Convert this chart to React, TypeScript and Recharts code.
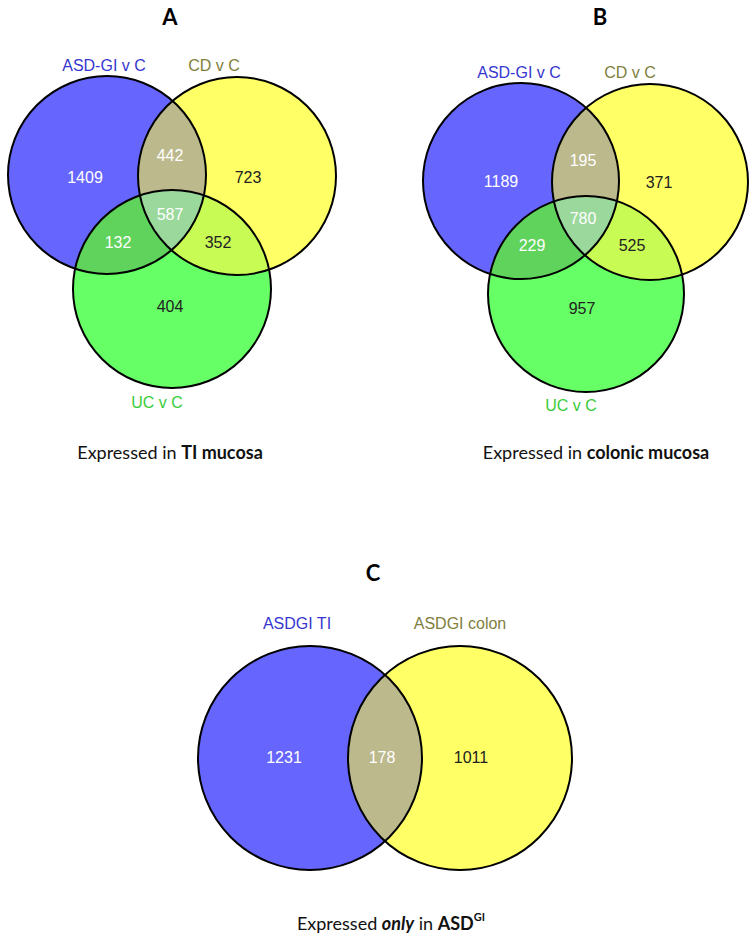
import React from 'react';
import { ScatterChart, Scatter, XAxis, YAxis, ZAxis } from 'recharts';

const W = 755;
const H = 939;

// ---- data ----
const panelTitles = ['A', 'B', 'C'];
const setNamesA = ['ASD-GI v C', 'CD v C', 'UC v C'];
const setNamesB = ['ASD-GI v C', 'CD v C', 'UC v C'];
const setNamesC = ['ASDGI TI', 'ASDGI colon'];
// region order: set1 only, 1&2, set2 only, 1&2&3, 1&3, 2&3, set3 only
const regions3 = ['1', '12', '2', '123', '13', '23', '3'];
const countsA = [1409, 442, 723, 587, 132, 352, 404];
const countsB = [1189, 195, 371, 780, 229, 525, 957];
const regions2 = ['1', '12', '2'];
const countsC = [1231, 178, 1011];
// caption pieces: [text, style]  (b = bold, bi = bold italic, sup = bold superscript)
const captionA = [['Expressed in ', ''], ['TI mucosa', 'b']];
const captionB = [['Expressed in ', ''], ['colonic mucosa', 'b']];
const captionC = [['Expressed ', ''], ['only', 'bi'], [' in ', ''], ['ASD', 'b'], ['GI', 'sup']];

// ---- layout (chart units, y grows downward) ----
const circlesA = [[107, 175], [237, 176], [172, 289]];
const circlesB = [[521, 181], [650, 182], [586, 294]];
const circlesC = [[310, 758], [460, 758]];
const radiusA = 99;
const radiusB = 98;
const radiusC = 112;
const titlePos = [[170, 16], [600, 16], [373, 572]];
const namePosA = [[104, 65], [214, 65], [157, 402]];
const namePosB = [[519, 72], [630, 72], [571, 405]];
const namePosC = [[297, 623], [460, 623]];
const numPosA = [[85, 177], [170, 155], [248, 177], [170, 214], [118, 242], [218, 242], [170, 306]];
const numPosB = [[501, 181], [583, 160], [659, 182], [583, 218], [532, 245], [632, 245], [582, 308]];
const numPosC = [[284, 757], [382, 757], [471, 757]];
const captionPos = [[170, 452], [596, 452], [391, 923]];

// ---- styles ----
const SET_FILL = ['#6666ff', '#ffff66', '#66ff66'];
const SET_TEXT = ['#3636cf', '#80803c', '#39cc39'];
const REGION_FILL: Record<string, string> = {
  '12': '#bcb98d',
  '13': '#5fd35c',
  '23': '#c9fb55',
  '123': '#9bd89b',
};
const LIGHT_REGIONS = ['1', '12', '13', '123'];
const SANS = 'Liberation Sans, Arial, sans-serif';
const CAPTION_FONT = 'Lato, Open Sans, sans-serif';

const area = (r: number) => Math.PI * r * r;

type Panel = { id: string; circles: number[][]; r: number };
const panels: Panel[] = [
  { id: 'a', circles: circlesA, r: radiusA },
  { id: 'b', circles: circlesB, r: radiusB },
  { id: 'c', circles: circlesC, r: radiusC },
];

const baseCircles: any[] = [];
const lenses: any[] = [];
const outlines: any[] = [];
panels.forEach((p) => {
  p.circles.forEach(([x, y], i) => {
    baseCircles.push({ x, y, z: area(p.r), fill: SET_FILL[i], clipId: `venn-${p.id}-${i}` });
    outlines.push({ x, y, z: area(p.r) });
  });
  const n = p.circles.length;
  for (let i = 0; i < n; i++) {
    for (let j = i + 1; j < n; j++) {
      const [x, y] = p.circles[i];
      lenses.push({ x, y, z: area(p.r), fill: REGION_FILL[`${i + 1}${j + 1}`], clips: [`venn-${p.id}-${j}`] });
    }
  }
  if (n === 3) {
    const [x, y] = p.circles[0];
    lenses.push({ x, y, z: area(p.r), fill: REGION_FILL['123'], clips: [`venn-${p.id}-1`, `venn-${p.id}-2`] });
  }
});

const texts: any[] = [];
panelTitles.forEach((t, i) => {
  const [x, y] = titlePos[i];
  texts.push({ x, y, z: 0, text: t, kind: 'title' });
});
const addNames = (names: string[], pos: number[][]) =>
  names.forEach((t, i) => texts.push({ x: pos[i][0], y: pos[i][1], z: 0, text: t, kind: 'name', color: SET_TEXT[i] }));
addNames(setNamesA, namePosA);
addNames(setNamesB, namePosB);
addNames(setNamesC, namePosC);
const addCounts = (counts: number[], keys: string[], pos: number[][]) =>
  counts.forEach((c, i) =>
    texts.push({
      x: pos[i][0],
      y: pos[i][1],
      z: 0,
      text: String(c),
      kind: 'count',
      color: LIGHT_REGIONS.includes(keys[i]) ? '#ffffff' : '#222222',
    })
  );
addCounts(countsA, regions3, numPosA);
addCounts(countsB, regions3, numPosB);
addCounts(countsC, regions2, numPosC);
[captionA, captionB, captionC].forEach((parts, i) => {
  texts.push({ x: captionPos[i][0], y: captionPos[i][1], z: 0, parts, kind: 'caption' });
});

// ---- shapes ----
const CircleShape = (p: any) => {
  const r = p.width / 2;
  return (
    <g>
      <clipPath id={p.payload.clipId}>
        <circle cx={p.cx} cy={p.cy} r={r} />
      </clipPath>
      <circle cx={p.cx} cy={p.cy} r={r} fill={p.payload.fill} />
    </g>
  );
};

const LensShape = (p: any) => {
  let node = <circle cx={p.cx} cy={p.cy} r={p.width / 2} fill={p.payload.fill} />;
  p.payload.clips.forEach((c: string) => {
    node = <g clipPath={`url(#${c})`}>{node}</g>;
  });
  return node;
};

const OutlineShape = (p: any) => (
  <circle cx={p.cx} cy={p.cy} r={p.width / 2} fill="none" stroke="#000" strokeWidth={2} />
);

const TextShape = (p: any) => {
  const d = p.payload;
  if (d.kind === 'title') {
    return (
      <text x={p.cx} y={p.cy} textAnchor="middle" dominantBaseline="central" fontFamily={CAPTION_FONT} fontWeight={700} fontSize={22} fill="#000">
        {d.text}
      </text>
    );
  }
  if (d.kind === 'name' || d.kind === 'count') {
    return (
      <text x={p.cx} y={p.cy} textAnchor="middle" dominantBaseline="central" fontFamily={SANS} fontSize={16} fill={d.color}>
        {d.text}
      </text>
    );
  }
  return (
    <text x={p.cx} y={p.cy} textAnchor="middle" dominantBaseline="central" fontFamily={CAPTION_FONT} fontSize={18} fill="#111">
      {d.parts.map(([t, s]: string[], i: number) => (
        <tspan
          key={i}
          fontWeight={s ? 700 : 400}
          fontStyle={s === 'bi' ? 'italic' : 'normal'}
          fontSize={s === 'sup' ? 11 : 18}
          dy={s === 'sup' ? -7 : 0}
        >
          {t}
        </tspan>
      ))}
    </text>
  );
};

export default function App() {
  return (
    <div style={{ position: 'absolute', left: 0, top: 0, width: W, height: H, background: '#fff' }}>
      <ScatterChart width={W} height={H} margin={{ top: 0, right: 0, bottom: 0, left: 0 }}>
        <XAxis type="number" dataKey="x" domain={[0, W]} hide allowDataOverflow />
        <YAxis type="number" dataKey="y" domain={[0, H]} reversed hide allowDataOverflow />
        <ZAxis type="number" dataKey="z" domain={[0, 60000]} range={[0, 60000]} />
        <Scatter data={baseCircles} shape={CircleShape} isAnimationActive={false} />
        <Scatter data={lenses} shape={LensShape} isAnimationActive={false} />
        <Scatter data={outlines} shape={OutlineShape} isAnimationActive={false} />
        <Scatter data={texts} shape={TextShape} isAnimationActive={false} />
      </ScatterChart>
    </div>
  );
}
